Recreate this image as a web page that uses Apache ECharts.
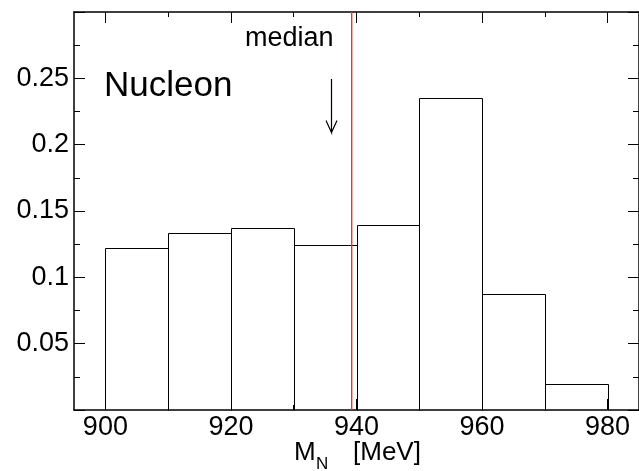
<!DOCTYPE html>
<html>
<head>
<meta charset="utf-8">
<script src="https://cdn.jsdelivr.net/npm/echarts@6/dist/echarts.min.js"></script>
<style>
  html, body { margin: 0; padding: 0; background: #fff; }
  #chart { width: 639px; height: 471px; }
</style>
</head>
<body>
<div id="chart"></div>
<script>
// Nucleon mass distribution: bin edges (MeV) and normalised bin heights
const binEdges = [900, 910, 920, 930, 940, 950, 960, 970, 980];
const binHeights = [0.1222, 0.1335, 0.1372, 0.1247, 0.1395, 0.2354, 0.0871, 0.0196];
const medianMass = 939.1;
// annotation arrow: x position, tail and tip heights
const arrowX = 936;
const arrowTail = 0.2495;
const arrowTip = 0.2092;
// tick values
const xMajorTicks = [900, 920, 940, 960, 980];
const xMinorTicks = [910, 930, 950, 970];
const yLabelValues = [0.05, 0.1, 0.15, 0.2, 0.25];

const FONT = '"Liberation Sans", Arial, Helvetica, sans-serif';
const X_MIN = 895, X_MAX = 985, Y_MIN = 0, Y_MAX = 0.3;
const MEDIAN_RED = '#ff2a2a';

const bins = binHeights.map((h, i) => [binEdges[i], binEdges[i + 1], h]);

const chart = echarts.init(document.getElementById('chart'), null, { renderer: 'canvas' });

const lineCol = '#000';
function xAxisDef(position, ticks, len, showLine, showLabels) {
  return {
    type: 'value', position: position, min: X_MIN, max: X_MAX,
    axisLine: { show: showLine, onZero: false, lineStyle: { color: lineCol, width: 1.5 } },
    axisTick: { show: true, inside: true, length: len, customValues: ticks, lineStyle: { color: lineCol, width: 1 } },
    axisLabel: showLabels ? {
      show: true, customValues: ticks, margin: 4,
      color: '#000', fontFamily: FONT, fontSize: 27
    } : { show: false },
    splitLine: { show: false }
  };
}
function yAxisDef(position, showLabels) {
  return {
    type: 'value', position: position, min: Y_MIN, max: Y_MAX, interval: 0.05,
    axisLine: { show: true, onZero: false, lineStyle: { color: lineCol, width: 1.5 } },
    axisTick: { show: true, inside: true, length: 11, lineStyle: { color: lineCol, width: 1 } },
    minorTick: { show: true, splitNumber: 2, length: 6, lineStyle: { color: lineCol, width: 1 } },
    axisLabel: showLabels ? {
      show: true, margin: 5, color: '#000', fontFamily: FONT, fontSize: 27,
      formatter: v => {
        const hit = yLabelValues.find(t => Math.abs(t - v) < 1e-9);
        return hit === undefined ? '' : String(hit);
      }
    } : { show: false },
    splitLine: { show: false },
    minorSplitLine: { show: false }
  };
}

chart.setOption({
  animation: false,
  backgroundColor: '#fff',
  grid: { left: 74, top: 12, width: 568, height: 398, containLabel: false },
  xAxis: [
    xAxisDef('bottom', xMajorTicks, 11, true, true),
    xAxisDef('bottom', xMinorTicks, 5, false, false),
    xAxisDef('top', xMajorTicks, 11, true, false),
    xAxisDef('top', xMinorTicks, 5, false, false)
  ],
  yAxis: [yAxisDef('left', true), yAxisDef('right', false)],
  series: [
    {
      // histogram outline
      type: 'custom',
      xAxisIndex: 0, yAxisIndex: 0,
      data: bins,
      renderItem: (params, api) => {
        const a = api.coord([api.value(0), 0]);
        const b = api.coord([api.value(1), api.value(2)]);
        const x0 = Math.round(a[0]) + 0.5, x1 = Math.round(b[0]) + 0.5;
        const y0 = Math.round(a[1]) + 0.5, y1 = Math.round(b[1]) + 0.5;
        return {
          type: 'polyline',
          shape: { points: [[x0, y0], [x0, y1], [x1, y1], [x1, y0]] },
          style: { fill: 'none', stroke: '#000', lineWidth: 1 }
        };
      },
      z: 2
    },
    {
      // median marker, drawn as a thin filled strip
      type: 'custom',
      xAxisIndex: 0, yAxisIndex: 0,
      itemStyle: { color: MEDIAN_RED },
      data: [[medianMass]],
      renderItem: (params, api) => {
        const top = api.coord([api.value(0), Y_MAX]);
        const bot = api.coord([api.value(0), Y_MIN]);
        const x = Math.round(top[0]);
        return {
          type: 'rect',
          shape: { x: x, y: top[1], width: 1.4, height: bot[1] - top[1] },
          style: { fill: MEDIAN_RED, stroke: null }
        };
      },
      z: 4
    },
    {
      // arrow pointing at the median
      type: 'custom',
      xAxisIndex: 0, yAxisIndex: 0,
      data: [[arrowX, arrowTail, arrowTip]],
      renderItem: (params, api) => {
        const t = api.coord([api.value(0), api.value(1)]);
        const h = api.coord([api.value(0), api.value(2)]);
        const x = Math.round(t[0]) + 0.5;
        return {
          type: 'polyline',
          shape: { points: [[x, t[1]], [x, h[1]], [x - 5.5, h[1] - 12], [x, h[1]], [x + 5.5, h[1] - 12]] },
          style: { fill: 'none', stroke: '#000', lineWidth: 1.2 }
        };
      },
      z: 3
    }
  ],
  graphic: [
    { type: 'text', left: 104, top: 69, style: { text: 'Nucleon', font: '35px ' + FONT, fill: '#000' } },
    { type: 'text', left: 245, top: 25, style: { text: 'median', font: '27px ' + FONT, fill: '#000' } },
    { type: 'text', left: 294, top: 440, style: { text: 'M', font: '26px ' + FONT, fill: '#000' } },
    { type: 'text', left: 316, top: 456, style: { text: 'N', font: '17px ' + FONT, fill: '#000' } },
    { type: 'text', left: 353, top: 440, style: { text: '[MeV]', font: '26px ' + FONT, fill: '#000' } }
  ]
});
</script>
</body>
</html>
